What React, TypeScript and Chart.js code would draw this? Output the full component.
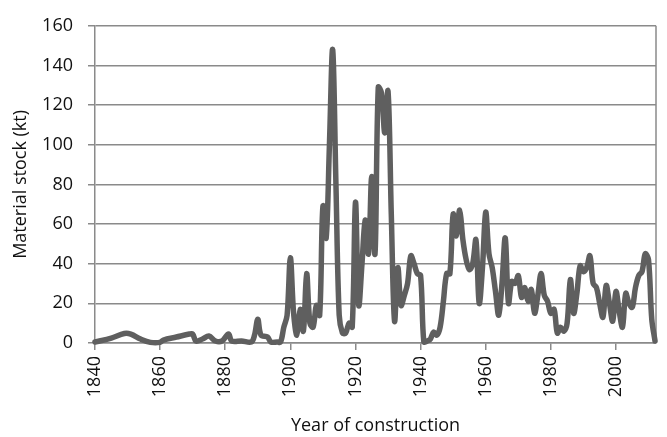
import React, { useEffect, useRef } from "react";
import { Chart, registerables } from "chart.js";

Chart.register(...registerables);

const years: number[] = [
  1840, 1845, 1849, 1851, 1854, 1857, 1860, 1861, 1865, 1869, 1870, 1871, 1873, 1875, 1877, 1879,
  1881, 1882, 1885, 1888, 1889, 1890, 1891, 1893, 1894, 1896, 1897, 1898, 1899,
  1900, 1901, 1902, 1903, 1904, 1905, 1906, 1907, 1908, 1909, 1910, 1911, 1912, 1913, 1914, 1915,
  1916, 1917, 1918, 1919, 1920, 1921, 1922, 1923, 1924, 1925, 1926, 1927, 1928, 1929, 1930, 1931,
  1932, 1933, 1934, 1935, 1936, 1937, 1938, 1939, 1940, 1941, 1942, 1943, 1944, 1945, 1946, 1947,
  1948, 1949, 1950, 1951, 1952, 1953, 1954, 1955, 1956, 1957, 1958, 1959, 1960, 1961, 1962, 1963,
  1964, 1965, 1966, 1967, 1968, 1969, 1970, 1971, 1972, 1973, 1974, 1975, 1976, 1977, 1978, 1979,
  1980, 1981, 1982, 1983, 1984, 1985, 1986, 1987, 1988, 1989, 1990, 1991, 1992, 1993, 1994, 1995,
  1996, 1997, 1998, 1999, 2000, 2001, 2002, 2003, 2004, 2005, 2006, 2007, 2008, 2009, 2010, 2011,
  2012,
];

const stock: number[] = [
  0.5, 2.5, 4.8, 4.5, 2, 0.3, 0.3, 1.5, 3, 4.5, 4.5, 1, 2, 3.5, 1, 1,
  4.5, 1, 1, 0.5, 4, 12, 4, 3, 0.5, 0.5, 0.5, 8, 14,
  43, 15, 4, 17, 6, 35, 10, 8, 19, 14, 69, 53, 100, 148, 80, 14,
  5, 5, 10, 8, 71, 19, 40, 62, 45, 84, 45, 129, 126, 106, 127, 65,
  11, 38, 19, 24, 30, 44, 40, 35, 34, 0.5, 1, 2, 5.5, 4, 8, 21,
  35, 35, 65, 54, 67, 52, 42, 37, 40, 52, 20, 38, 66, 45, 38, 26,
  14, 30, 53, 20, 31, 30, 34, 23, 28, 21, 27, 15, 24, 35, 24, 21,
  15, 17, 5, 8, 6, 10, 32, 15, 25, 39, 36, 38, 44, 30, 28, 20,
  13, 29, 20, 11, 26, 16, 8, 25, 20, 18, 28, 34, 36, 45, 42, 12,
  1,
];

const xTicks: number[] = [1840, 1860, 1880, 1900, 1920, 1940, 1960, 1980, 2000];
const yTicks: number[] = [0, 20, 40, 60, 80, 100, 120, 140, 160];

const FONT = "'Open Sans', 'Liberation Sans', sans-serif";
const GRID = "#8a8a8a";

const boxPlugin = {
  id: "box",
  beforeDatasetsDraw(chart: any) {
    const { ctx, chartArea } = chart;
    ctx.save();
    ctx.strokeStyle = GRID;
    ctx.lineWidth = 1.5;
    ctx.beginPath();
    ctx.moveTo(chartArea.right, chartArea.top);
    ctx.lineTo(chartArea.right, chartArea.bottom);
    ctx.stroke();
    ctx.restore();
  },
};

export default function App() {
  const ref = useRef<HTMLCanvasElement | null>(null);

  useEffect(() => {
    if (!ref.current) return;
    const chart = new Chart(ref.current, {
      type: "line",
      data: {
        datasets: [
          {
            data: years.map((y, i) => ({ x: y, y: stock[i] })),
            borderColor: "#5f5f5f",
            borderWidth: 5.5,
            pointRadius: 0,
            tension: 0.35,
            fill: false,
            clip: false as any,
            borderJoinStyle: "round",
            borderCapStyle: "round",
          },
        ],
      },
      plugins: [boxPlugin],
      options: {
        animation: false,
        responsive: false,
        maintainAspectRatio: false,
        layout: { padding: { left: 0, right: 11, top: 20, bottom: 0 } },
        plugins: { legend: { display: false }, tooltip: { enabled: false } },
        scales: {
          x: {
            type: "linear",
            min: 1840,
            max: 2012.3,
            afterBuildTicks: (scale: any) => {
              scale.ticks = xTicks.map((v) => ({ value: v }));
            },
            afterFit: (scale: any) => {
              scale.height = 94;
            },
            ticks: {
              minRotation: 90,
              maxRotation: 90,
              padding: 6,
              color: "#111",
              font: { family: FONT, size: 18 },
              callback: (v: any) => String(v),
            },
            grid: {
              drawOnChartArea: false,
              drawTicks: true,
              tickLength: 7,
              color: GRID,
              lineWidth: 1.5,
            },
            border: { color: GRID, width: 1.5 },
            title: {
              display: true,
              text: "Year of construction",
              color: "#111",
              font: { family: FONT, size: 18 },
              padding: { top: 0, bottom: 0 },
            },
          },
          y: {
            min: 0,
            max: 160,
            afterBuildTicks: (scale: any) => {
              scale.ticks = yTicks.map((v) => ({ value: v }));
            },
            afterFit: (scale: any) => {
              scale.width = 95;
            },
            ticks: {
              padding: 15,
              color: "#111",
              font: { family: FONT, size: 18 },
            },
            grid: {
              color: GRID,
              lineWidth: 1.5,
              tickLength: 7,
            },
            border: { color: GRID, width: 1.5 },
            title: {
              display: true,
              text: "Material stock (kt)",
              color: "#111",
              font: { family: FONT, size: 18 },
              padding: { top: 10, bottom: 0 },
            },
          },
        },
      },
    });
    return () => chart.destroy();
  }, []);

  return (
    <div style={{ position: "fixed", left: 0, top: 0, width: 667, height: 437, background: "#fff" }}>
      <canvas ref={ref} width={667} height={437} style={{ width: 667, height: 437 }} />
    </div>
  );
}
